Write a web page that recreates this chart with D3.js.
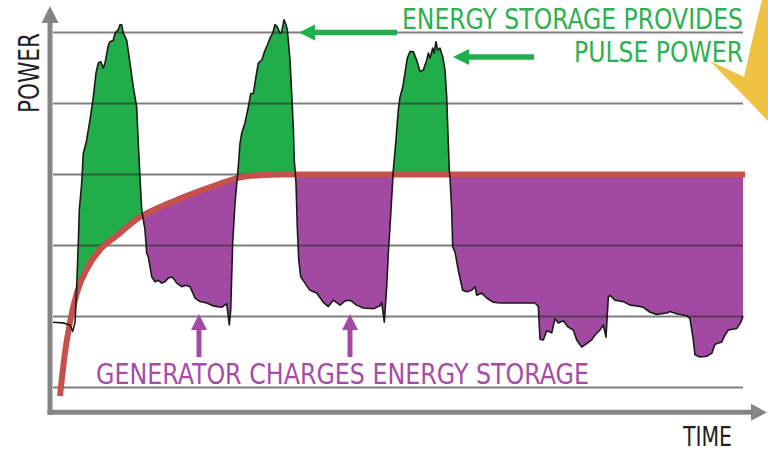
<!DOCTYPE html>
<html><head><meta charset="utf-8">
<script src="https://cdn.jsdelivr.net/npm/d3@7"></script>
<style>html,body{margin:0;padding:0;background:#fff;}svg{display:block;}</style>
</head><body>
<svg id="chart" width="768" height="450"></svg>
<script>
// ---- data (time units, power in gridline units) ----
const loadTime = [3,13,20,22.7,25,26.7,28.3,29.3,31.7,33.3,36,40,43.3,46,48.3,50.7,53.3,55,58.3,60,63.3,65,68.3,70,71.7,73.3,76.7,80,83.3,86.7,88.3,90,91.7,95,96.7,98.3,101.7,105,108.3,111.7,115,118.3,121.7,125,126.7,131.7,136,140,145,150,156.7,163,171.7,176.7,179.3,180.7,182.7,185,188.3,190,191.7,195,198.3,200.7,203.3,206,208.3,211.7,215,217.3,220,222.7,225,227.3,230,231.7,234,236,237.3,240,241.7,243.3,244.3,246,247.3,248.7,250.7,255,258.3,260,266.7,273.3,278.3,283.3,290,295,300,306.7,313.3,323.3,330,331.7,334.3,336.7,338.3,340,343.3,346,348.3,350,352.7,355,357.3,360,363.3,366.7,370,373.3,376.7,378.3,380,382.7,384,386,387.7,390,392.7,395,396.7,398.3,399.3,400,401.7,402.7,405,408.3,412.7,416.7,421.7,425,426.7,431.7,436.7,443.3,450,456.7,466.7,476.7,485,488.3,490,493.3,496.7,501.7,505,508.3,513.3,518.3,523.3,526.7,531.7,536.7,541.7,545,550,553.3,556,558.3,560,565,573.3,580,586.7,593.3,600,606.7,616.7,620,626.7,636.7,640,643.3,645,650,656.7,661.7,665,671.7,675,678.3,686.7,690,691.7,693];
const loadPower = [1.92,1.91,1.88,1.79,1.91,2.42,3.04,3.50,3.88,4.30,4.44,4.77,5.09,5.43,5.57,5.59,5.50,5.57,5.82,5.87,5.89,5.99,6.04,6.11,6.11,5.99,5.89,5.57,5.23,4.95,4.44,3.96,3.50,3.22,2.89,2.84,2.56,2.49,2.51,2.47,2.49,2.54,2.56,2.51,2.47,2.42,2.44,2.42,2.26,2.21,2.19,2.15,2.13,2.18,1.88,2.09,3.04,3.60,4.11,4.44,4.58,4.73,4.95,5.14,5.14,5.38,5.57,5.61,5.75,5.82,5.92,5.99,6.11,6.08,5.99,6.01,6.18,6.11,6.04,5.61,5.14,4.67,4.20,3.88,3.26,2.80,2.56,2.47,2.40,2.37,2.33,2.20,2.14,2.23,2.16,2.22,2.23,2.16,2.12,2.11,2.15,2.20,1.92,2.42,2.89,3.26,4.06,4.49,4.91,5.09,5.23,5.43,5.64,5.73,5.73,5.61,5.45,5.47,5.61,5.71,5.64,5.78,5.71,5.87,5.75,5.78,5.66,5.47,5.09,4.44,4.06,3.96,3.50,2.98,2.91,2.65,2.37,2.35,2.37,2.42,2.30,2.33,2.26,2.20,2.19,2.19,2.19,2.19,2.19,2.14,1.68,1.67,1.80,1.77,1.97,1.91,1.94,1.85,1.81,1.67,1.57,1.62,1.67,1.74,1.81,1.88,1.71,2.27,2.30,2.23,2.21,2.16,2.15,2.13,2.06,2.03,2.05,2.07,2.04,2.01,1.97,1.67,1.46,1.43,1.44,1.48,1.61,1.64,1.74,1.81,1.83,1.90,1.95,2.01];
const genTime = [10,15,20,27,38,50,66,90,113,130,150,170,190,210,230,695];
const genPower = [0.88,1.49,1.92,2.34,2.70,2.94,3.13,3.40,3.56,3.66,3.77,3.87,3.96,3.99,4.00,4.00];
const gridValues = [1,2,3,4,5,6];
const labels = {
  topLine1: "ENERGY STORAGE PROVIDES",
  topLine2: "PULSE POWER",
  bottom: "GENERATOR CHARGES ENERGY STORAGE",
  xTitle: "TIME",
  yTitle: "POWER"
};

// ---- scales ----
const W = 768, H = 450;
const x = d3.scaleLinear().domain([0, 700]).range([50, 750]);
const y = d3.scaleLinear().domain([0, 6]).range([458.5, 32.5]);
const axisBase = 0.65;

const svg = d3.select("#chart");
const load = loadTime.map((t, i) => ({t, p: loadPower[i]}));
const gen = genTime.map((t, i) => ({t, p: genPower[i]}));
const fillPts = load.slice(5);

const GREEN = "#22ad4b", PURPLE = "#a24aa3", RED = "#c6504b", GRAY = "#858585";
const FONT = "'Liberation Sans Narrow','DejaVu Sans Condensed','Roboto Condensed',sans-serif";

const genCurve = d3.curveMonotoneX;
const defs = svg.append("defs");
defs.append("clipPath").attr("id", "above").append("path")
  .attr("d", d3.area().x(d => x(d.t)).y0(0).y1(d => y(d.p)).curve(genCurve)(gen));
defs.append("clipPath").attr("id", "below").append("path")
  .attr("d", d3.area().x(d => x(d.t)).y0(H).y1(d => y(d.p)).curve(genCurve)(gen));

// fills
svg.append("path").attr("clip-path", "url(#above)").attr("fill", GREEN)
  .attr("d", d3.area().x(d => x(d.t)).y0(H).y1(d => y(d.p))(fillPts));
svg.append("path").attr("clip-path", "url(#below)").attr("fill", PURPLE)
  .attr("d", d3.area().x(d => x(d.t)).y0(0).y1(d => y(d.p))(fillPts));

// gridlines
svg.append("g").selectAll("line").data(gridValues).join("line")
  .attr("x1", x(3)).attr("x2", x(693))
  .attr("y1", d => y(d)).attr("y2", d => y(d))
  .attr("stroke", "#2e2e2e").attr("stroke-opacity", 0.62).attr("stroke-width", 1.8);

// generator line
svg.append("path").attr("fill", "none").attr("stroke", RED).attr("stroke-width", 6)
  .attr("stroke-linecap", "butt")
  .attr("d", d3.line().x(d => x(d.t)).y(d => y(d.p)).curve(genCurve)(gen));

// load line
svg.append("path").attr("fill", "none").attr("stroke", "#1a1a1a").attr("stroke-width", 1.6)
  .attr("stroke-linejoin", "round")
  .attr("d", d3.line().x(d => x(d.t)).y(d => y(d.p))(load));

// axes
const x0 = x(0), yb = y(axisBase);
svg.append("line").attr("x1", x0).attr("x2", x0).attr("y1", yb + 2.5).attr("y2", 22)
  .attr("stroke", GRAY).attr("stroke-width", 5);
svg.append("path").attr("fill", GRAY)
  .attr("d", `M${x0 - 8.5},23 L${x0 + 8.5},23 L${x0},6 Z`);
svg.append("line").attr("x1", x0 - 2.5).attr("x2", 752).attr("y1", yb).attr("y2", yb)
  .attr("stroke", GRAY).attr("stroke-width", 5);
svg.append("path").attr("fill", GRAY)
  .attr("d", `M751,${yb - 8.5} L751,${yb + 8.5} L767,${yb} Z`);

// green arrows
function hArrow(x1, x2, yy, col) {
  svg.append("line").attr("x1", x1).attr("x2", x2 + 14).attr("y1", yy).attr("y2", yy)
    .attr("stroke", col).attr("stroke-width", 5.5);
  svg.append("path").attr("fill", col)
    .attr("d", `M${x2},${yy} L${x2 + 16},${yy - 8} L${x2 + 16},${yy + 8} Z`);
}
hArrow(397, 299, 32.5, "#1db04c");
hArrow(534, 453, 57, "#1db04c");

// purple arrows
function vArrow(xx, yTip, yEnd, col) {
  svg.append("line").attr("x1", xx).attr("x2", xx).attr("y1", yTip + 14).attr("y2", yEnd)
    .attr("stroke", col).attr("stroke-width", 5);
  svg.append("path").attr("fill", col)
    .attr("d", `M${xx},${yTip} L${xx - 8},${yTip + 16} L${xx + 8},${yTip + 16} Z`);
}
vArrow(199, 314, 357, "#a44aa6");
vArrow(350, 314, 357, "#a44aa6");

// texts
function txt(s, xx, yy, len, col, size) {
  return svg.append("text").attr("x", xx).attr("y", yy).text(s)
    .attr("font-family", FONT).attr("font-size", size).attr("fill", col)
    .attr("textLength", len).attr("lengthAdjust", "spacingAndGlyphs");
}
txt(labels.topLine1, 402, 28.5, 341, "#2db04e", 27.5);
txt(labels.topLine2, 574, 62, 169, "#2db04e", 27.5);
txt(labels.bottom, 96, 383.5, 493, "#a64ca6", 27.5);
txt(labels.xTitle, 683, 445.5, 49, "#222", 26.5);
svg.append("text").attr("transform", "translate(38.5,113) rotate(-90)").text(labels.yTitle)
  .attr("font-family", FONT).attr("font-size", 27.5).attr("fill", "#222")
  .attr("textLength", 80).attr("lengthAdjust", "spacingAndGlyphs");

// yellow decoration (partial arrow at top right)
svg.append("path").attr("fill", "#efc243")
  .attr("d", "M762,0 L768,0 L768,121 L710,61 L744,77 Q752,40 762,0 Z");
</script>
</body></html>
